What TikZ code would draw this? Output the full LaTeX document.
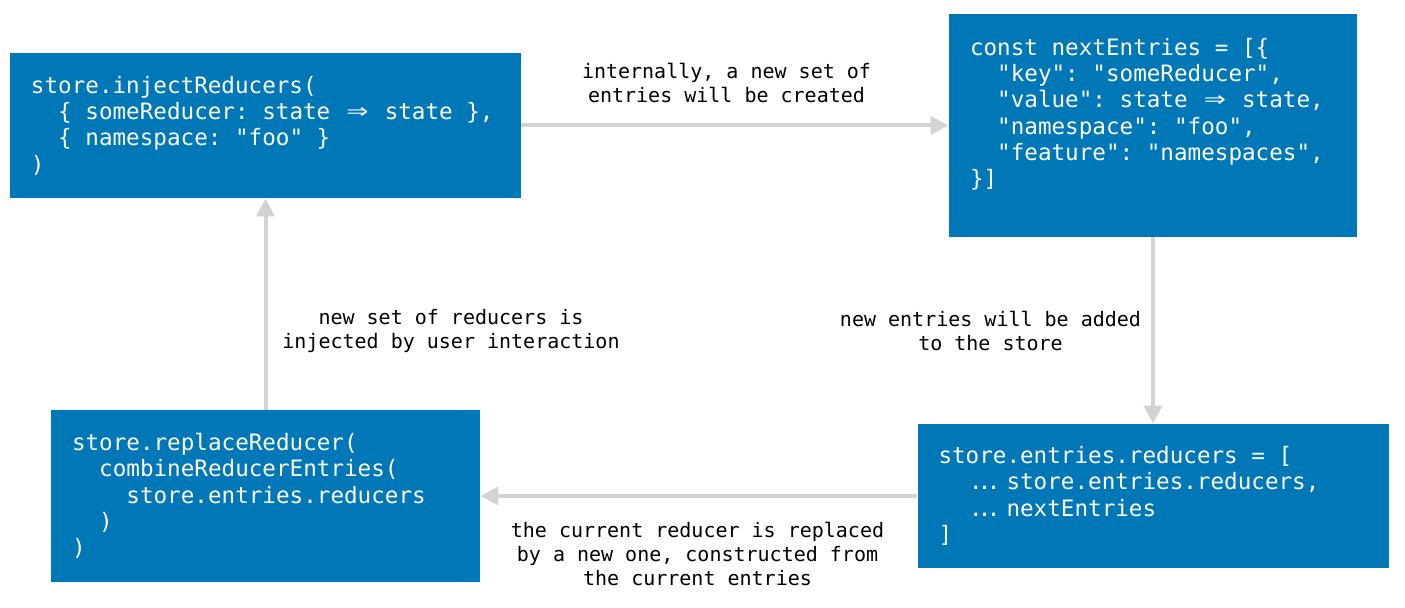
\documentclass[tikz,border=0pt]{standalone}
\usepackage{fontspec}
\usepackage{graphicx}
\setmonofont{DejaVu Sans Mono}
\usetikzlibrary{arrows.meta}
\definecolor{boxblue}{RGB}{0,119,182}
\definecolor{flowgray}{RGB}{211,211,211}
\newcommand\codefont{\ttfamily\fontsize{11.3}{13.15}\selectfont}
\newcommand\notefont{\ttfamily\fontsize{10}{12}\selectfont}
% indentation and ligature-like glyphs, measured in character cells
\newcommand\cell{\fontcharwd\font`x}
\newcommand\tb[1]{\hspace*{#1\cell}}
\newcommand\arr{\makebox[2\cell]{\scalebox{1.6}[1.2]{⇒}}}
\newcommand\ellip{\makebox[3\cell][l]{\kern.25\cell.\kern-.35\cell.\kern-.35\cell.}}
\begin{document}
\begin{tikzpicture}[x=0.5pt,y=-0.5pt,
  codebox/.style={fill=boxblue,text=white,font=\codefont,align=flush left,
    inner xsep=10.5pt,inner ysep=0pt},
  note/.style={font=\notefont,align=center,inner sep=0pt},
  flow/.style={draw=flowgray,line width=2pt,-{Triangle[length=9pt,width=9pt]}}]
  \useasboundingbox (0,0) rectangle (1405,608);
  \node[codebox,text width=234.5pt,minimum width=255.5pt,minimum height=72.5pt]
    (inject) at (265.5,125.5)
    {store.injectReducers(\\
     \tb{2}\{ someReducer: state \arr{} state \},\\
     \tb{2}\{ namespace: "foo" \}\\
     )};
  \node[codebox,text width=183pt,minimum width=204pt,minimum height=111.5pt]
    (entries) at (1153,125.5)
    {const nextEntries = [\{\\
     \tb{2}"key": "someReducer",\\
     \tb{2}"value": state \arr{} state,\\
     \tb{2}"namespace": "foo",\\
     \tb{2}"feature":~"namespaces",\\
     \}]\\
     \mbox{}};
  \node[codebox,text width=214.5pt,minimum width=235.5pt,minimum height=72pt]
    (reducers) at (1153,496)
    {store.entries.reducers = [\\
     \tb{2}\ellip{}store.entries.reducers,\\
     \tb{2}\ellip{}nextEntries\\
     ]};
  \node[codebox,text width=193.5pt,minimum width=214.5pt,minimum height=86pt]
    (replace) at (265.5,496)
    {store.replaceReducer(\\
     \tb{2}combineReducerEntries(\\
     \tb{4}store.entries.reducers\\
     \tb{2})\\
     )};
  \node[note] (created) at (726.5,83) {internally, a new set of\\entries will be created};
  \node[note] (added) at (990.5,331) {new entries will be added\\to the store};
  \node[note] (replaced) at (697.5,554)
    {the current reducer is replaced\\by a new one, constructed from\\the current entries};
  \node[note] (injected) at (451,331) {new set of reducers is\\injected by user interaction};
  \draw[flow] (inject) -- (entries);
  \draw[flow] (entries) -- (reducers);
  \draw[flow] (reducers) -- (replace);
  \draw[flow] (replace) -- (inject);
\end{tikzpicture}
\end{document}
